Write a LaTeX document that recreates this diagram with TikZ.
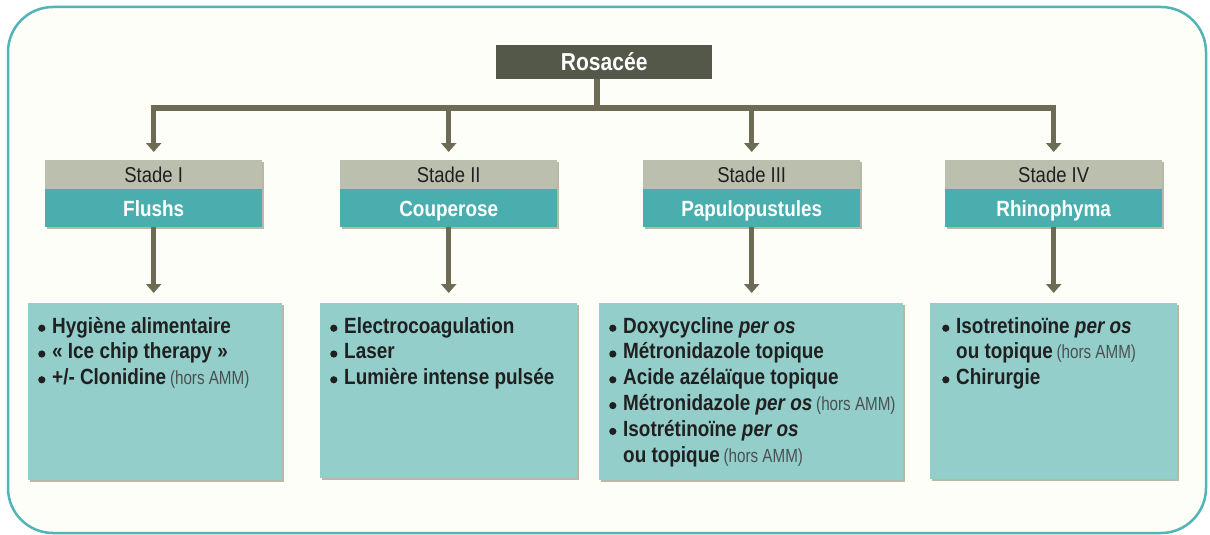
\documentclass[tikz,border=0pt]{standalone}
\usepackage{fontspec}
\setmainfont{Liberation Sans}[FakeStretch=0.86]
\newfontfamily\horsfont{Liberation Sans}[FakeStretch=0.80]
\usetikzlibrary{arrows.meta,shadows}
\definecolor{framec}{HTML}{52B4B6}
\definecolor{bgc}{HTML}{FDFEF8}
\definecolor{darkc}{HTML}{545848}
\definecolor{arrc}{HTML}{6E6B55}
\definecolor{stagegray}{HTML}{BBBFAE}
\definecolor{stageteal}{HTML}{4BAEAE}
\definecolor{boxteal}{HTML}{93CECB}
\definecolor{shadowc}{HTML}{B9B8A6}
\definecolor{txtc}{HTML}{202020}
\definecolor{horsc}{HTML}{4A5050}
\newcommand\blt{\makebox[14pt][l]{\tikz[baseline=0pt]\fill[txtc] (3.5pt,4.8pt) circle (3.6pt);}}
\newcommand\hors[1]{\hspace{-1.5pt}{\horsfont\fontsize{19}{22}\selectfont\mdseries\color{horsc}#1}}
\begin{document}
\begin{tikzpicture}[x=1pt,y=-1pt,
  myshadow/.style={general shadow={fill=shadowc, shadow xshift=2pt, shadow yshift=-2pt}},
  rootbox/.style={fill=darkc, text=white, font=\fontsize{24.5}{28}\selectfont\bfseries,
    minimum width=216pt, minimum height=34pt, inner sep=0pt, anchor=north west,
    text height=17.5pt, text depth=0pt},
  stagehead/.style={fill=stagegray, text=txtc, font=\fontsize{21.5}{24}\selectfont,
    minimum width=217pt, minimum height=29pt, inner sep=0pt, anchor=north west,
    text height=15.4pt, text depth=0pt, myshadow},
  stagename/.style={fill=stageteal, text=white, font=\fontsize{22}{25}\selectfont\bfseries,
    minimum width=217pt, minimum height=38pt, inner sep=0pt, anchor=north west,
    text height=15.8pt, text depth=0pt, myshadow},
  treatbox/.style={fill=boxteal, inner sep=0pt, anchor=north west, myshadow},
  treattext/.style={anchor=base west, inner sep=0pt, text=txtc,
    font=\fontsize{22}{25.8}\selectfont\bfseries},
  conn/.style={draw=arrc, line width=5.5pt, line join=miter},
  arrowtip/.style={-{Triangle[width=15pt,length=9pt]}}
]
\useasboundingbox (0,0) rectangle (1210,535);
\fill[white] (0,0) rectangle (1210,535);
\draw[draw=framec, line width=2.5pt, fill=bgc, rounded corners=45pt] (8,7) rectangle (1206,533);

% root
\node[rootbox] (root) at (496,45) {Rosacée};

% stage headers
\node[stagehead] (h1) at (45,160) {Stade I};
\node[stagename] (s1) at (45,189) {Flushs};
\node[stagehead] (h2) at (340,160) {Stade II};
\node[stagename] (s2) at (340,189) {Couperose};
\node[stagehead] (h3) at (643,160) {Stade III};
\node[stagename] (s3) at (643,189) {Papulopustules};
\node[stagehead] (h4) at (945,160) {Stade IV};
\node[stagename] (s4) at (945,189) {Rhinophyma};

% treatment boxes
\node[treatbox, minimum width=254pt, minimum height=177pt] (b1) at (28,303) {};
\node[treatbox, minimum width=257pt, minimum height=175pt] (b2) at (320,303) {};
\node[treatbox, minimum width=304pt, minimum height=177pt] (b3) at (599,303) {};
\node[treatbox, minimum width=247pt, minimum height=176pt] (b4) at (930,303) {};

\node[treattext] (l1) at (38,333) {\begin{tabular}[t]{@{}l@{}l@{}}
\blt & Hygiène alimentaire\\
\blt & « Ice chip therapy »\\
\blt & +/- Clonidine \hors{(hors AMM)}
\end{tabular}};
\node[treattext] (l2) at (330,333) {\begin{tabular}[t]{@{}l@{}l@{}}
\blt & Electrocoagulation\\
\blt & Laser\\
\blt & Lumière intense pulsée
\end{tabular}};
\node[treattext] (l3) at (609,333) {\begin{tabular}[t]{@{}l@{}l@{}}
\blt & Doxycycline \textit{per os}\\
\blt & Métronidazole topique\\
\blt & Acide azélaïque topique\\
\blt & Métronidazole \textit{per os} \hors{(hors AMM)}\\
\blt & Isotrétinoïne \textit{per os}\\
 & ou topique \hors{(hors AMM)}
\end{tabular}};
\node[treattext] (l4) at (942,333) {\begin{tabular}[t]{@{}l@{}l@{}}
\blt & Isotretinoïne \textit{per os}\\
 & ou topique \hors{(hors AMM)}\\
\blt & Chirurgie
\end{tabular}};

% connectors
\coordinate (hub) at (597,108);
\draw[conn] (root.south -| hub) -- (hub);
\draw[conn, {Triangle[width=15pt,length=9pt]}-{Triangle[width=15pt,length=9pt]}]
  ([yshift=8pt]h1.north) -- (h1.north |- hub) -- (h4.north |- hub) -- ([yshift=8pt]h4.north);
\draw[conn, arrowtip] (h2.north |- hub) -- ([yshift=8pt]h2.north);
\draw[conn, arrowtip] (h3.north |- hub) -- ([yshift=8pt]h3.north);

\foreach \i in {1,2,3,4}{
  \coordinate (t\i) at (s\i.south |- b\i.north);
  \draw[conn, arrowtip] (s\i.south) -- ([yshift=10pt]t\i);
}
\end{tikzpicture}
\end{document}
